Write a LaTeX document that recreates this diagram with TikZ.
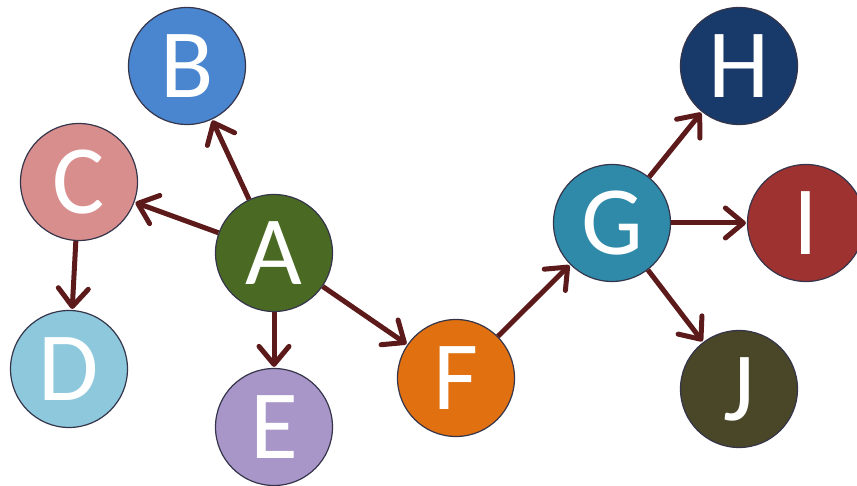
\documentclass[tikz,border=0pt]{standalone}
\usepackage{fontspec}
\setmainfont{Carlito}
\usetikzlibrary{arrows.meta}
\definecolor{cB}{HTML}{4A86D0}
\definecolor{cC}{HTML}{D98E8E}
\definecolor{cA}{HTML}{4A6A24}
\definecolor{cD}{HTML}{8DC8DC}
\definecolor{cE}{HTML}{A896C8}
\definecolor{cF}{HTML}{E07010}
\definecolor{cG}{HTML}{2E8AA8}
\definecolor{cH}{HTML}{173A6A}
\definecolor{cI}{HTML}{9E3230}
\definecolor{cJ}{HTML}{4A4628}
\definecolor{arr}{HTML}{5C1A1A}
\definecolor{rim}{HTML}{34344A}
\tikzset{
  vtx/.style={circle, draw=rim, line width=1.2pt, minimum size=117pt, inner sep=0pt,
    text=white, font=\fontsize{98}{98}\selectfont},
  edge/.style={draw=arr, line width=5pt, -{Straight Barb[length=18pt, width=30pt, line width=5pt, round]}, shorten >=1pt}
}
\begin{document}
\begin{tikzpicture}[x=1pt, y=-1pt]
\useasboundingbox (0,0) rectangle (857,486);
\clip (0,0) rectangle (857,486);
\node[vtx, fill=cB] (B) at (187,66) {B};
\node[vtx, fill=cC] (C) at (79,182) {C};
\node[vtx, fill=cA] (A) at (274,253) {A};
\node[vtx, fill=cD] (D) at (69,369) {D};
\node[vtx, fill=cE] (E) at (274,427) {E};
\node[vtx, fill=cF] (F) at (456,378) {F};
\node[vtx, fill=cG] (G) at (612,223) {G};
\node[vtx, fill=cH] (H) at (739,66) {H};
\node[vtx, fill=cI] (I) at (806,223) {I};
\node[vtx, fill=cJ] (J) at (739,389) {J};
\draw[edge] (A) -- (B);
\draw[edge] (A) -- (C);
\draw[edge] (A) -- (E);
\draw[edge] (A) -- (F);
\draw[edge] (C) -- (D);
\draw[edge] (F) -- (G);
\draw[edge] (G) -- (H);
\draw[edge] (G) -- (I);
\draw[edge] (G) -- (J);
\end{tikzpicture}
\end{document}
